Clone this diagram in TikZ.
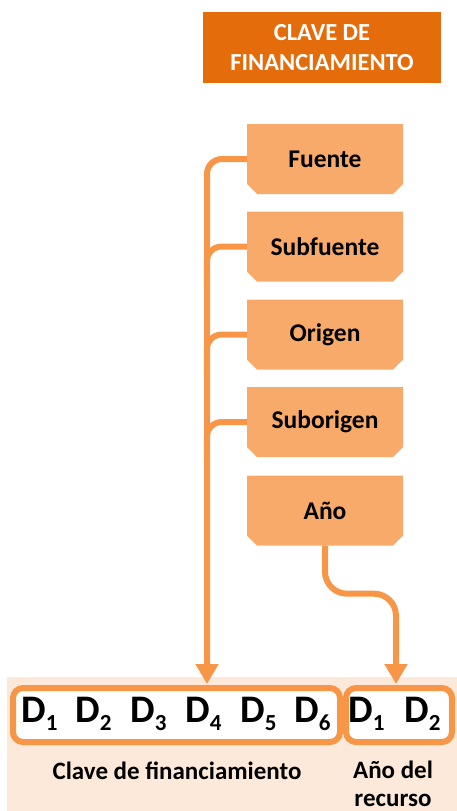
\documentclass[tikz,border=0pt]{standalone}
\usepackage{fontspec}
\setmainfont{Carlito}
\usetikzlibrary{arrows.meta}
\definecolor{hdr}{HTML}{E46C0A}
\definecolor{accent}{HTML}{F79646}
\definecolor{boxfill}{HTML}{F8AA6A}
\definecolor{peach}{HTML}{FDE9D9}
% digit with a lowered subscript
\newcommand\Dsb[1]{D\raisebox{-8pt}{\fontsize{23}{23}\selectfont #1}}
\begin{document}
\begin{tikzpicture}[x=1pt,y=-1pt,
  stage/.style={minimum width=156pt, minimum height=70pt, inner sep=0pt,
    font=\fontsize{25.5}{28}\selectfont\bfseries,
    path picture={\fill[boxfill]
      (path picture bounding box.north west) --
      (path picture bounding box.north east) --
      ([yshift=10pt]path picture bounding box.south east) --
      ([xshift=-10pt]path picture bounding box.south east) --
      ([xshift=10pt]path picture bounding box.south west) --
      ([yshift=10pt]path picture bounding box.south west) -- cycle;}},
  conn/.style={draw=accent, line width=6pt},
  arr/.style={conn, -{Triangle[width=22pt,length=20pt]}},
  keybox/.style={draw=accent, line width=6pt, fill=white, rounded corners=10pt, inner sep=0pt},
  dlab/.style={anchor=base west, inner sep=0pt, font=\fontsize{39}{39}\selectfont\bfseries},
  lab/.style={inner sep=0pt, font=\fontsize{25}{28}\selectfont\bfseries}]
\useasboundingbox (0,0) rectangle (457,811);

% title
\node[fill=hdr, text=white, minimum width=238pt, minimum height=71pt, inner sep=0pt,
  align=center, font=\fontsize{24.5}{30}\selectfont\bfseries] (title) at (322,47.5)
  {CLAVE DE\\FINANCIAMIENTO};

% components of the key
\node[stage] (fuente) at (325,159)   {Fuente};
\node[stage] (subf)   at (325,246.5) {Subfuente};
\node[stage] (orig)   at (325,334.5) {Origen};
\node[stage] (subo)   at (325,422)   {Suborigen};
\node[stage] (ano)    at (325,510.5) {Año};

% bottom band with the digit boxes
\fill[peach] (7,677) rectangle (457,811);
\node[keybox, minimum width=327pt, minimum height=54pt] (clave) at (176.5,715) {};
\node[keybox, minimum width=106pt, minimum height=54pt] (anio) at (399,715) {};

\node[dlab] (d1) at (21,722)  {\Dsb{1}};
\node[dlab] (d2) at (75,722)  {\Dsb{2}};
\node[dlab] (d3) at (130,722) {\Dsb{3}};
\node[dlab] (d4) at (185,722) {\Dsb{4}};
\node[dlab] (d5) at (240,722) {\Dsb{5}};
\node[dlab] (d6) at (294,722) {\Dsb{6}};
\node[dlab] (e1) at (348,722) {\Dsb{1}};
\node[dlab] (e2) at (404,722) {\Dsb{2}};

\node[lab, anchor=base] (lclave) at (177,779) {Clave de financiamiento};
\node[lab, anchor=north, align=center] (lanio) at (393,761) {Año del\\recurso};

% connectors
\coordinate (in1) at (207,684);
\coordinate (in2) at (396,684);
\draw[arr, rounded corners=15pt] (fuente.west) -| (in1);
\draw[conn, rounded corners=15pt] (subf.west) -| ++(-40,40);
\draw[conn, rounded corners=15pt] (orig.west) -| ++(-40,40);
\draw[conn, rounded corners=15pt] (subo.west) -| ++(-40,40);
\draw[arr, rounded corners=22pt] (ano.south) -- ++(0,48) -| (in2);
\end{tikzpicture}
\end{document}
